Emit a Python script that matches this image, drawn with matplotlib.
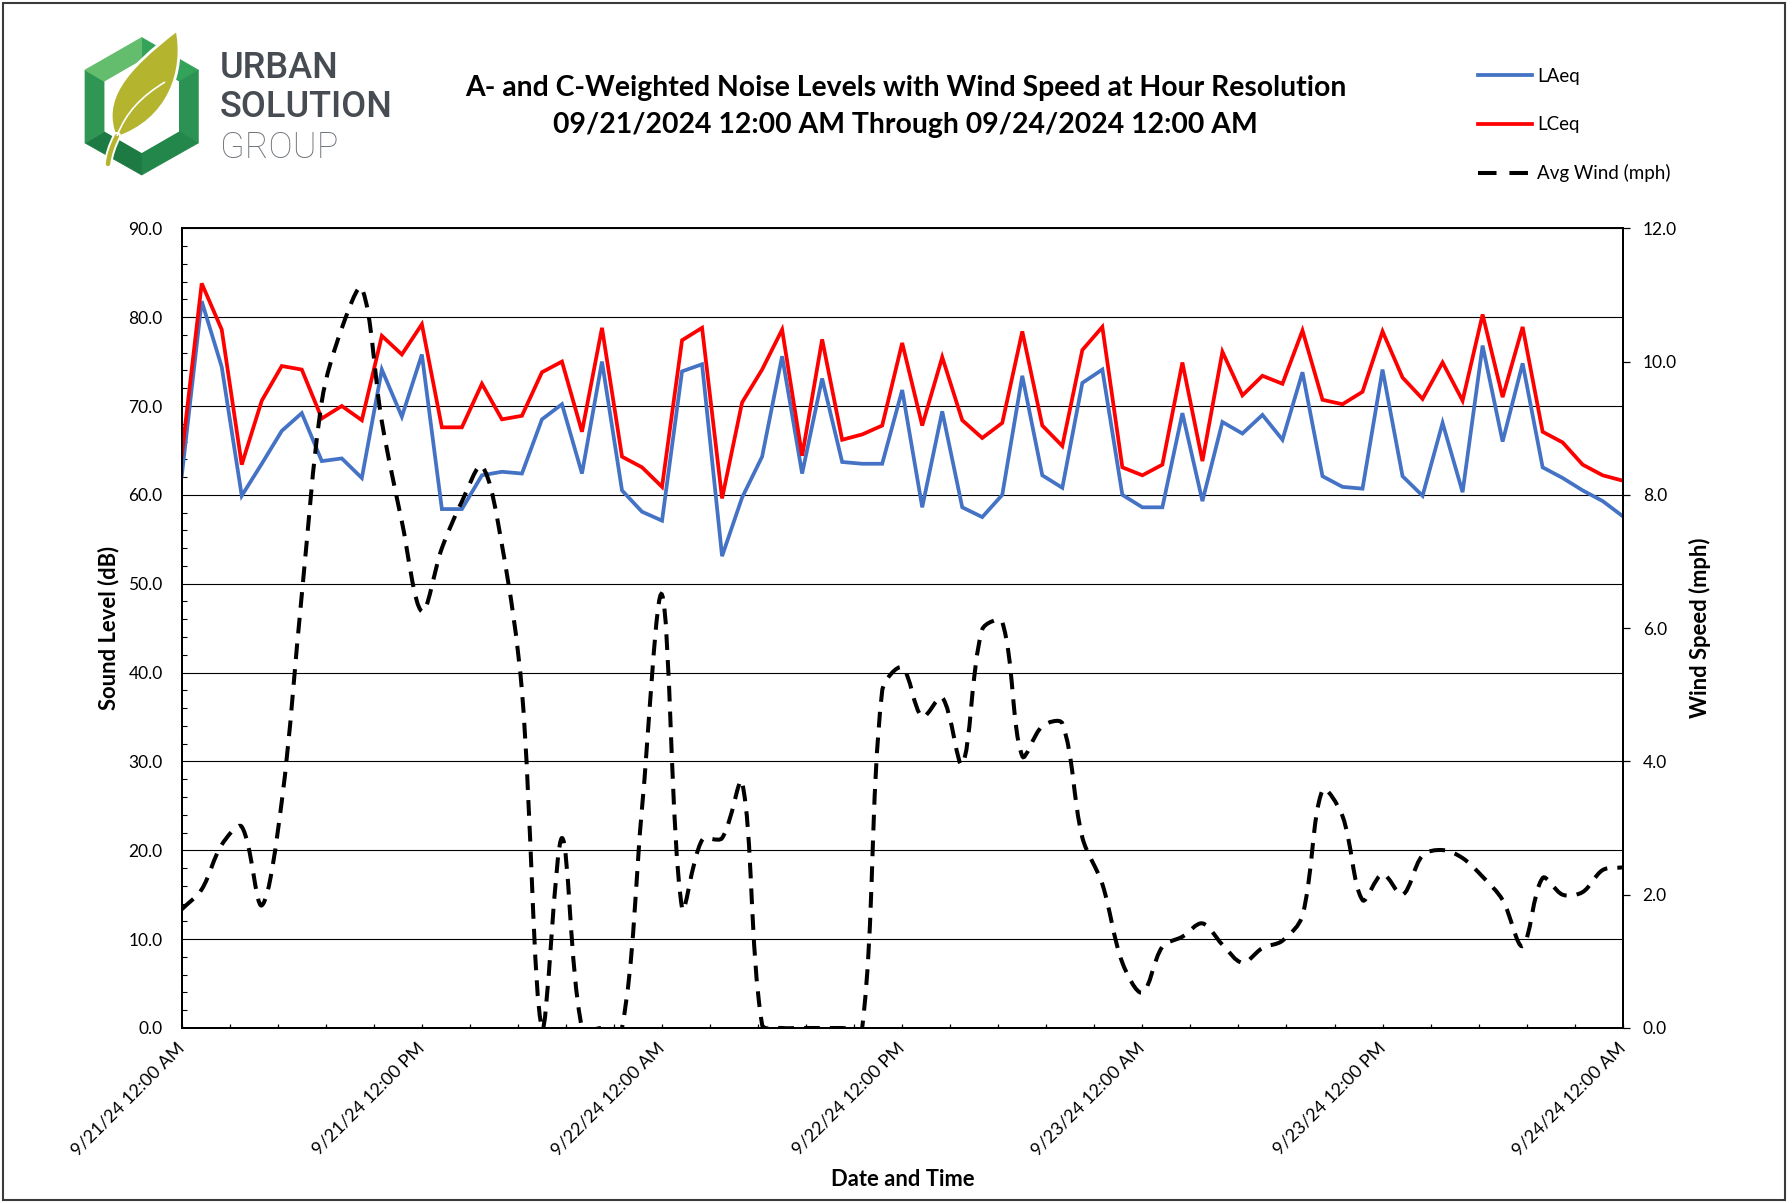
import numpy as np
import pandas as pd
import matplotlib
matplotlib.use("Agg")
import matplotlib.pyplot as plt
import matplotlib.dates as mdates
from matplotlib.path import Path
from matplotlib.patches import PathPatch, Polygon, Rectangle
from matplotlib.lines import Line2D
from matplotlib.ticker import MultipleLocator, FixedLocator, FuncFormatter, NullFormatter

plt.rcParams['font.family'] = ['Lato', 'DejaVu Sans']

# ---------------- data ----------------
start = "2024-09-21 00:00"
times = pd.date_range(start, periods=73, freq="h")

laeq = [62.1, 81.8, 74.4, 59.9, 63.5, 67.2, 69.2, 63.8, 64.1, 61.9, 74.1, 68.8,
        75.8, 58.4, 58.4, 62.2, 62.6, 62.4, 68.5, 70.2, 62.4, 75.0, 60.5, 58.1,
        57.1, 73.9, 74.7, 53.1, 59.7, 64.3, 75.6, 62.4, 73.1, 63.7, 63.5, 63.5,
        71.8, 58.6, 69.4, 58.6, 57.5, 60.0, 73.4, 62.2, 60.8, 72.6, 74.1, 60.0,
        58.6, 58.6, 69.2, 59.3, 68.2, 66.9, 69.0, 66.2, 73.8, 62.1, 60.9, 60.7,
        74.1, 62.1, 59.9, 68.1, 60.3, 76.8, 66.0, 74.8, 63.1, 61.9, 60.5, 59.3,
        57.6]

lceq = [64.4, 83.8, 78.6, 63.4, 70.6, 74.5, 74.1, 68.6, 70.0, 68.4, 77.9, 75.8,
        79.2, 67.6, 67.6, 72.5, 68.5, 68.9, 73.8, 75.0, 67.1, 78.8, 64.3, 63.1,
        60.9, 77.4, 78.8, 59.6, 70.4, 74.1, 78.6, 64.4, 77.5, 66.2, 66.8, 67.8,
        77.1, 67.8, 75.5, 68.4, 66.4, 68.1, 78.4, 67.8, 65.5, 76.3, 78.9, 63.1,
        62.2, 63.4, 74.9, 63.8, 76.1, 71.2, 73.4, 72.5, 78.5, 70.7, 70.2, 71.6,
        78.4, 73.2, 70.8, 74.9, 70.6, 80.3, 71.0, 78.9, 67.1, 65.9, 63.4, 62.2,
        61.6]

wind = [1.78, 2.08, 2.75, 3.02, 1.84, 3.40, 6.50, 9.40, 10.50, 11.10, 9.10, 7.60,
        6.25, 7.20, 7.90, 8.43, 7.25, 5.06, 0.00, 2.85, 0.00, 0.00, 0.00, 3.30,
        6.50, 1.80, 2.82, 2.85, 3.69, 0.05, 0.00, 0.00, 0.00, 0.00, 0.00, 5.06,
        5.41, 4.67, 4.96, 3.96, 5.98, 6.09, 4.08, 4.53, 4.57, 2.86, 2.16, 0.98,
        0.53, 1.22, 1.37, 1.57, 1.25, 0.98, 1.20, 1.31, 1.69, 3.57, 3.18, 1.92,
        2.31, 2.00, 2.59, 2.67, 2.55, 2.27, 1.92, 1.23, 2.25, 2.00, 2.04, 2.37,
        2.41]

x_major_times = pd.date_range(start, periods=7, freq="12h")
x_tick_labels = ["9/21/24 12:00 AM", "9/21/24 12:00 PM", "9/22/24 12:00 AM",
                 "9/22/24 12:00 PM", "9/23/24 12:00 AM", "9/23/24 12:00 PM",
                 "9/24/24 12:00 AM"]
db_ticks = [0, 10, 20, 30, 40, 50, 60, 70, 80, 90]
mph_ticks = [0, 2, 4, 6, 8, 10, 12]

title_lines = ["A- and C-Weighted Noise Levels with Wind Speed at Hour Resolution",
               "09/21/2024 12:00 AM Through 09/24/2024 12:00 AM"]

W, H = 1792, 1203
fig = plt.figure(figsize=(W / 100, H / 100), dpi=100)
fig.patch.set_facecolor("white")

def fx(px):
    return px / W

def fy(py):
    return 1 - py / H

# ---------------- main axes ----------------
L, R, T, B = 181.7, 1622.7, 228.3, 1028.0
ax = fig.add_axes([fx(L), fy(B), (R - L) / W, (B - T) / H])
ax2 = ax.twinx()

xnum = mdates.date2num(times.to_pydatetime())
ax.plot(xnum, laeq, color="#4472C4", lw=2.7, solid_joinstyle="miter", zorder=3)
ax.plot(xnum, lceq, color="#FF0000", lw=2.7, solid_joinstyle="miter", zorder=3)

YMAX2 = 12.0
X_SPAN = xnum[-1] - xnum[0]

def smooth_path(xs, ys, sx, sy, t=1.0 / 3.0):
    """Spreadsheet-style smoothed line: cubic Bezier through every point,
    tangent lengths weighted by the neighbouring segment lengths (on screen)."""
    xs = np.asarray(xs, float)
    ys = np.asarray(ys, float)
    n = len(xs)
    P = np.column_stack([xs, ys])
    S = np.array([sx, sy])
    before = np.zeros_like(P)
    after = np.zeros_like(P)
    for i in range(n):
        p0 = P[max(i - 1, 0)]
        p2 = P[min(i + 1, n - 1)]
        d01 = np.hypot(*((P[i] - p0) * S))
        d12 = np.hypot(*((p2 - P[i]) * S))
        tot = d01 + d12
        if tot == 0:
            before[i] = after[i] = P[i]
            continue
        before[i] = P[i] - t * d01 / tot * (p2 - p0)
        after[i] = P[i] + t * d12 / tot * (p2 - p0)
    verts = [tuple(P[0])]
    codes = [Path.MOVETO]
    for i in range(n - 1):
        verts += [tuple(after[i]), tuple(before[i + 1]), tuple(P[i + 1])]
        codes += [Path.CURVE4] * 3
    return Path(verts, codes)

wind_dash = (0, (3.9, 2.5))
px_per_x = (R - L) / X_SPAN
px_per_y = (B - T) / YMAX2
ax2.add_patch(PathPatch(smooth_path(xnum, wind, px_per_x, px_per_y), fill=False,
                        edgecolor="black", lw=2.9, linestyle=wind_dash, zorder=4))

ax.set_xlim(xnum[0], xnum[-1])
ax.set_ylim(0, 90)
ax2.set_ylim(0, YMAX2)

# gridlines / ticks
ax.set_yticks(db_ticks)
ax.yaxis.grid(True, color="black", lw=0.8)
ax.set_axisbelow(True)
ax.yaxis.set_major_formatter(FuncFormatter(lambda v, p: f"{v:.1f}"))
ax.yaxis.set_minor_locator(MultipleLocator(2))
ax.tick_params(axis="y", which="major", length=0, pad=13.7, labelsize=12.5)
ax.tick_params(axis="y", which="minor", direction="in", length=3.8, width=0.8)

ax2.set_yticks(mph_ticks)
ax2.yaxis.set_major_formatter(FuncFormatter(lambda v, p: f"{v:.1f}"))
ax2.tick_params(axis="y", which="major", direction="out", length=4.8, width=0.9,
                pad=9.6, labelsize=12.5)

ax.xaxis.set_major_locator(FixedLocator(mdates.date2num(x_major_times.to_pydatetime())))
ax.set_xticklabels(x_tick_labels)
ax.xaxis.set_minor_locator(MultipleLocator(0.1))
ax.xaxis.set_minor_formatter(NullFormatter())
ax.tick_params(axis="x", which="both", direction="in", length=3.0, width=0.9)
ax.tick_params(axis="x", which="major", pad=12.5, labelsize=13)
for lbl in ax.get_xticklabels():
    lbl.set_rotation(45)
    lbl.set_ha("right")
    lbl.set_va("center")
    lbl.set_rotation_mode("anchor")

for a in (ax, ax2):
    for s in ("left", "right", "bottom"):
        a.spines[s].set_linewidth(1.4)
        a.spines[s].set_color("black")
    a.spines["top"].set_linewidth(1.2)
    a.spines["top"].set_color("black")
ax2.patch.set_visible(False)

# axis titles
fig.text(fx(108.6), fy(628), "Sound Level (dB)", rotation=90, ha="center",
         va="center", fontsize=15.8, fontweight="bold")
fig.text(fx(1699.5), fy(628), "Wind Speed (mph)", rotation=90, ha="center",
         va="center", fontsize=15.8, fontweight="bold")
fig.text(fx(903), fy(1179.5), "Date and Time", ha="center", va="center",
         fontsize=15.8, fontweight="bold")

# title
fig.text(fx(905.5), fy(88.3), title_lines[0], ha="center", va="center",
         fontsize=20.4, fontweight="bold")
fig.text(fx(905.5), fy(124.8), title_lines[1], ha="center", va="center",
         fontsize=20.4, fontweight="bold")

# legend
handles = [Line2D([], [], color="#4472C4", lw=2.7),
           Line2D([], [], color="#FF0000", lw=2.7),
           Line2D([], [], color="black", lw=2.9, linestyle=(0, (4.6, 3.2)))]
fig.legend(handles, ["LAeq", "LCeq", "Avg Wind (mph)"], loc="upper left",
           bbox_to_anchor=(fx(1478), fy(68)), frameon=False, fontsize=13.5,
           handlelength=2.88, handletextpad=0.27, labelspacing=1.66,
           borderpad=0, borderaxespad=0)

# ---------------- logo ----------------
lx0, ly0, lx1, ly1 = 60, 20, 420, 180
lax = fig.add_axes([fx(lx0), fy(ly1), (lx1 - lx0) / W, (ly1 - ly0) / H])
lax.set_xlim(lx0, lx1)
lax.set_ylim(ly1, ly0)
lax.axis("off")

outer = [(141.7, 37.5), (198.3, 70), (198.3, 143), (141.7, 175), (85, 143), (85, 70)]
inner = [(141.7, 60), (179, 81.5), (179, 131.5), (141.7, 153), (104.5, 131.5), (104.5, 81.5)]
face_colors = ["#34a35a", "#2b9254", "#23864a", "#1d7a42", "#2f9653", "#63bd6d"]
for k in range(6):
    a0, a1 = outer[k], outer[(k + 1) % 6]
    b0, b1 = inner[k], inner[(k + 1) % 6]
    lax.add_patch(Polygon([a0, a1, b1, b0], closed=True, facecolor=face_colors[k],
                          edgecolor=face_colors[k], lw=0.5))
lax.add_patch(Polygon(inner, closed=True, facecolor="white", edgecolor="none"))

leaf_col = "#b4b42e"
leaf = Path([(116, 138), (100, 100), (125, 70), (177, 30),
             (185, 70), (170, 120), (116, 138), (116, 138)],
            [Path.MOVETO, Path.CURVE4, Path.CURVE4, Path.CURVE4,
             Path.CURVE4, Path.CURVE4, Path.CURVE4, Path.CLOSEPOLY])
lax.add_patch(PathPatch(leaf, facecolor=leaf_col, edgecolor="white", lw=2.0))
stem = Path([(117, 136), (112, 146), (109, 155), (108, 164)],
            [Path.MOVETO, Path.CURVE4, Path.CURVE4, Path.CURVE4])
lax.add_patch(PathPatch(stem, fill=False, edgecolor="white", lw=6, capstyle="round"))
lax.add_patch(PathPatch(stem, fill=False, edgecolor=leaf_col, lw=3.2, capstyle="round"))
vein = Path([(117, 136), (126, 112), (142, 96), (165, 82)],
            [Path.MOVETO, Path.CURVE4, Path.CURVE4, Path.CURVE4])
lax.add_patch(PathPatch(vein, fill=False, edgecolor="white", lw=1.2))

lax.text(219.6, 78, "URBAN", fontsize=26, family="Roboto", fontweight="medium",
         color="#474c53", va="baseline", ha="left")
lax.text(219.6, 117, "SOLUTION", fontsize=26, family="Roboto", fontweight="medium",
         color="#474c53", va="baseline", ha="left")
lax.text(219.6, 158, "GROUP", fontsize=26, family="Roboto", fontweight="light",
         color="#70757b", va="baseline", ha="left")

# outer border
fig.add_artist(Rectangle((fx(3), fy(1200)), (1785 - 3) / W, (1200 - 3) / H,
                         transform=fig.transFigure, fill=False,
                         edgecolor="#3a3a3a", lw=1.5))

fig.savefig("out.png", dpi=100)
